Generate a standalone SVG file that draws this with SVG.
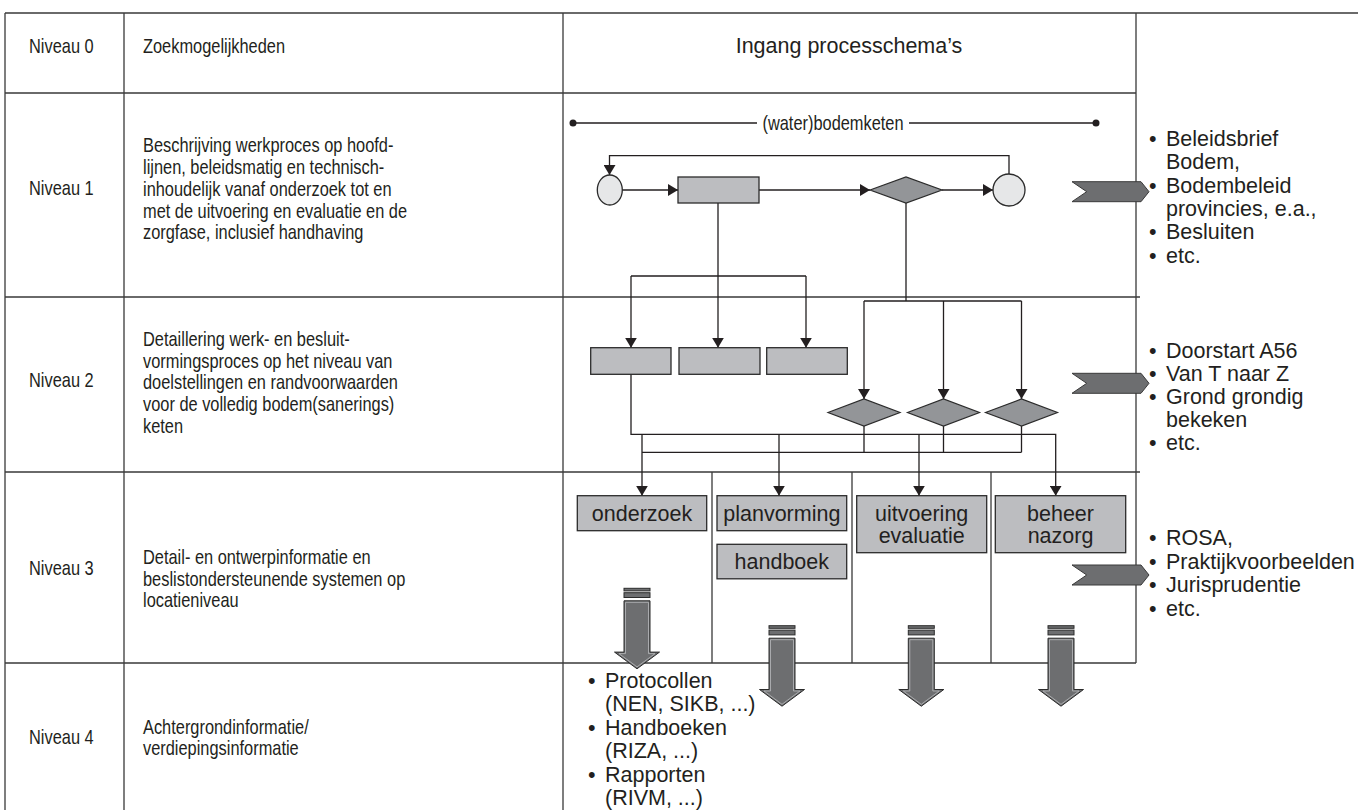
<svg xmlns="http://www.w3.org/2000/svg" xmlns:xlink="http://www.w3.org/1999/xlink" width="1358" height="810" viewBox="0 0 1358 810">
<style>
.grid{stroke:#3a3a3a;stroke-width:1.3;fill:none}
.lbl{font-family:'Liberation Sans',Arial,sans-serif;font-size:20px;fill:#231f20}
.big{font-family:'Liberation Sans',Arial,sans-serif;font-size:21.5px;fill:#231f20}
.box{fill:#bcbdc0;stroke:#2b2b2b;stroke-width:1.3}
.dia{fill:#939598;stroke:#2b2b2b;stroke-width:1.2}
.circ{fill:#e6e7e8;stroke:#2b2b2b;stroke-width:1.3}
.chev{fill:#6d6e70;stroke:#3a3a3a;stroke-width:1}
.con{stroke:#231f20;stroke-width:1.3;fill:none}
.arr{marker-end:url(#ah)}
.bar{fill:#6d6e70;stroke:#2b2b2b;stroke-width:1}
</style>
<defs>
<marker id="ah" markerUnits="userSpaceOnUse" markerWidth="11" markerHeight="12" refX="10" refY="6" orient="auto">
<path d="M0,0 L10,6 L0,12 z" fill="#231f20"/>
</marker>
<g id="bigArrow">
<rect class="bar" x="-13" y="0" width="26" height="2.6"/>
<rect class="bar" x="-13" y="4.4" width="26" height="4.8"/>
<path class="bar" d="M-13,12.5 H13 V63.8 H22.5 L0,80.5 L-22.5,63.8 H-13 Z"/>
<path d="M-11.5,14 H11.5 V65.3 H18 L0,78.6 L-18,65.3 H-11.5 Z" fill="none" stroke="#b9babc" stroke-width="0.8"/>
</g>
</defs>

<g id="table">
<path class="grid" d="M5,13 H1358 M5,13 V810 M124,13 V810 M563,13 V810 M1136,13 V663 M5,93 H1136 M5,297 H1140 M5,472 H1140 M5,663 H1136 M712,472 V663 M852,472 V663 M991,472 V663"/>
</g>

<g id="header">
<text class="big" x="849" y="53" text-anchor="middle">Ingang processchema’s</text>
</g>

<g transform="scale(0.82,1)">
<g id="header0">
<text class="lbl" x="35.4" y="53">Niveau 0</text>
<text class="lbl" x="174.4" y="53">Zoekmogelijkheden</text>
</g>
<g id="levels">
<text class="lbl" x="35.4" y="195">Niveau 1</text>
<text class="lbl" x="35.4" y="387">Niveau 2</text>
<text class="lbl" x="35.4" y="575">Niveau 3</text>
<text class="lbl" x="35.4" y="744">Niveau 4</text>
</g>
<g id="desc1">
<text class="lbl" x="174.4" y="152">Beschrijving werkproces op hoofd-</text>
<text class="lbl" x="174.4" y="174">lijnen, beleidsmatig en technisch-</text>
<text class="lbl" x="174.4" y="196">inhoudelijk vanaf onderzoek tot en</text>
<text class="lbl" x="174.4" y="218">met de uitvoering en evaluatie en de</text>
<text class="lbl" x="174.4" y="239">zorgfase, inclusief handhaving</text>
</g>
<g id="desc2">
<text class="lbl" x="174.4" y="346">Detaillering werk- en besluit-</text>
<text class="lbl" x="174.4" y="368">vormingsproces op het niveau van</text>
<text class="lbl" x="174.4" y="389">doelstellingen en randvoorwaarden</text>
<text class="lbl" x="174.4" y="411">voor de volledig bodem(sanerings)</text>
<text class="lbl" x="174.4" y="433">keten</text>
</g>
<g id="desc3">
<text class="lbl" x="174.4" y="564">Detail- en ontwerpinformatie en</text>
<text class="lbl" x="174.4" y="586">beslistondersteunende systemen op</text>
<text class="lbl" x="174.4" y="607">locatieniveau</text>
</g>
<g id="desc4">
<text class="lbl" x="174.4" y="734">Achtergrondinformatie/</text>
<text class="lbl" x="174.4" y="755">verdiepingsinformatie</text>
</g>
<text class="lbl" x="1015.9" y="130" text-anchor="middle">(water)bodemketen</text>
</g>

<g id="connectors">
<path class="con" d="M573,123 H757 M909,123 H1096"/>
<circle cx="573" cy="123" r="3.5" fill="#231f20"/>
<circle cx="1096" cy="123" r="3.5" fill="#231f20"/>
<path class="con arr" d="M1009,174 V155.7 H609.5 V175"/>
<path class="con arr" d="M622,190 H678"/>
<path class="con arr" d="M759,190 H870"/>
<path class="con arr" d="M942,190 H993"/>
<path class="con" d="M718,203 V276 M631,276 H806"/>
<path class="con arr" d="M631,276 V347.7"/>
<path class="con arr" d="M718,276 V347.7"/>
<path class="con arr" d="M806,276 V347.7"/>
<path class="con" d="M906,203 V301 M864,301 H1021.5"/>
<path class="con arr" d="M864,301 V399"/>
<path class="con arr" d="M943.5,301 V399"/>
<path class="con arr" d="M1021.5,301 V399"/>
<path class="con arr" d="M631,374.3 V434.3 H1055.7 V495.7"/>
<path class="con arr" d="M642,434.3 V495.7"/>
<path class="con arr" d="M779,434.3 V495.7"/>
<path class="con arr" d="M919,434.3 V495.7"/>
<path class="con" d="M642,452.3 H1021.5 M864,426 V452.3 M943.5,426 V452.3 M1021.5,426 V452.3"/>
</g>

<g id="start"><ellipse class="circ" cx="609.8" cy="190" rx="12.5" ry="15"/></g>
<g id="proc1"><rect class="box" x="678" y="177" width="81" height="26"/></g>
<g id="dec1"><path class="dia" d="M870,190 L906,177 L942,190 L906,203 Z"/></g>
<g id="end"><circle class="circ" cx="1009" cy="190" r="16"/></g>

<g id="box2a"><rect class="box" x="590.7" y="347.7" width="80.3" height="26.6"/></g>
<g id="box2b"><rect class="box" x="679" y="347.7" width="81" height="26.6"/></g>
<g id="box2c"><rect class="box" x="766.7" y="347.7" width="80.6" height="26.6"/></g>
<g id="dia2a"><path class="dia" d="M828,412.5 L864,399 L900,412.5 L864,426 Z"/></g>
<g id="dia2b"><path class="dia" d="M907.5,412.5 L943.5,399 L979.5,412.5 L943.5,426 Z"/></g>
<g id="dia2c"><path class="dia" d="M985.5,412.5 L1021.5,399 L1057.5,412.5 L1021.5,426 Z"/></g>

<g id="onderzoek"><rect class="box" x="577.3" y="495.7" width="129.4" height="35"/><text class="big" x="642" y="520.5" text-anchor="middle">onderzoek</text></g>
<g id="planvorming"><rect class="box" x="717" y="495.7" width="129.7" height="35"/><text class="big" x="781.8" y="520.5" text-anchor="middle">planvorming</text></g>
<g id="handboek"><rect class="box" x="717" y="544.3" width="129.7" height="34.5"/><text class="big" x="781.8" y="569" text-anchor="middle">handboek</text></g>
<g id="uitvoering"><rect class="box" x="856.7" y="495.7" width="130" height="57"/><text class="big" x="921.7" y="520.5" text-anchor="middle">uitvoering</text><text class="big" x="921.7" y="542.5" text-anchor="middle">evaluatie</text></g>
<g id="beheer"><rect class="box" x="995.3" y="495.7" width="130.4" height="57"/><text class="big" x="1060.5" y="520.5" text-anchor="middle">beheer</text><text class="big" x="1060.5" y="542.5" text-anchor="middle">nazorg</text></g>

<g id="bigarrows">
<use xlink:href="#bigArrow" x="637" y="588.3"/>
<use xlink:href="#bigArrow" x="782" y="625.7"/>
<use xlink:href="#bigArrow" x="921.3" y="625.7"/>
<use xlink:href="#bigArrow" x="1061" y="625.7"/>
</g>

<g id="chevrons">
<path class="chev" d="M1072,181.7 H1141 L1149,191.7 L1141,201.7 H1072 L1086.7,191.7 Z"/>
<path class="chev" d="M1072,373.3 H1141 L1149,383.3 L1141,393.3 H1072 L1086.7,383.3 Z"/>
<path class="chev" d="M1072,565 H1141 L1149,575 L1141,585 H1072 L1086.7,575 Z"/>
</g>

<g id="refs1">
<text class="big" x="1149" y="146">•</text><text class="big" x="1166" y="146">Beleidsbrief</text>
<text class="big" x="1166" y="169">Bodem,</text>
<text class="big" x="1149" y="192.5">•</text><text class="big" x="1166" y="192.5">Bodembeleid</text>
<text class="big" x="1166" y="216">provincies, e.a.,</text>
<text class="big" x="1149" y="239">•</text><text class="big" x="1166" y="239">Besluiten</text>
<text class="big" x="1149" y="262.5">•</text><text class="big" x="1166" y="262.5">etc.</text>
</g>
<g id="refs2">
<text class="big" x="1149" y="357.5">•</text><text class="big" x="1166" y="357.5">Doorstart A56</text>
<text class="big" x="1149" y="381">•</text><text class="big" x="1166" y="381">Van T naar Z</text>
<text class="big" x="1149" y="404">•</text><text class="big" x="1166" y="404">Grond grondig</text>
<text class="big" x="1166" y="426.5">bekeken</text>
<text class="big" x="1149" y="450">•</text><text class="big" x="1166" y="450">etc.</text>
</g>
<g id="refs3">
<text class="big" x="1149" y="545">•</text><text class="big" x="1166" y="545">ROSA,</text>
<text class="big" x="1149" y="568.5">•</text><text class="big" x="1166" y="568.5">Praktijkvoorbeelden</text>
<text class="big" x="1149" y="592">•</text><text class="big" x="1166" y="592">Jurisprudentie</text>
<text class="big" x="1149" y="615.5">•</text><text class="big" x="1166" y="615.5">etc.</text>
</g>
<g id="refs4">
<text class="big" x="588" y="687.5">•</text><text class="big" x="605" y="687.5">Protocollen</text>
<text class="big" x="605" y="711">(NEN, SIKB, ...)</text>
<text class="big" x="588" y="734.5">•</text><text class="big" x="605" y="734.5">Handboeken</text>
<text class="big" x="605" y="758">(RIZA, ...)</text>
<text class="big" x="588" y="781.5">•</text><text class="big" x="605" y="781.5">Rapporten</text>
<text class="big" x="605" y="805">(RIVM, ...)</text>
</g>
</svg>
